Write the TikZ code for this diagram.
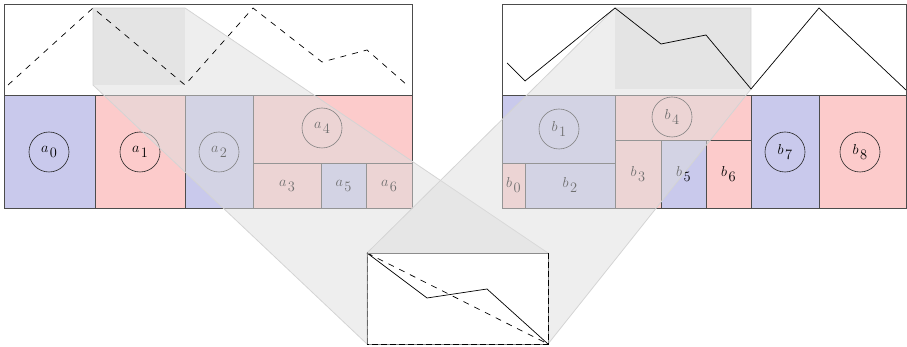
\documentclass[tikz,border=0pt]{standalone}
\usepackage{tikz}
\definecolor{cblue}{RGB}{201,201,236}
\definecolor{cpink}{RGB}{252,203,203}
\newcommand{\lbl}[2]{$#1$\kern1.5pt\raisebox{-5pt}{$#2$}}
\begin{document}
\begin{tikzpicture}[x=1pt,y=-1pt,
  cell/.style={draw=black!70, line width=0.7pt},
  bcell/.style={cell, fill=cblue},
  pcell/.style={cell, fill=cpink},
  txt/.style={font=\fontsize{14.5}{17}\selectfont, inner sep=0pt},
  ring/.style={txt, circle, draw=black!85, line width=0.6pt, minimum size=40pt},
  frame/.style={draw=black!70, line width=0.7pt},
  hl/.style={fill=black!8},
  proj/.style={fill=black!13, fill opacity=0.5, draw=black!17, line width=0.8pt},
  dashplot/.style={line width=0.7pt, dash pattern=on 6pt off 6pt},
  solidplot/.style={line width=0.7pt}]
\useasboundingbox (0,0) rectangle (907,347);

% key coordinates
\coordinate (LA) at (93,8);   \coordinate (LB) at (185,8);
\coordinate (LC) at (185,85); \coordinate (LD) at (93,85);
\coordinate (RA) at (615,8);  \coordinate (RB) at (751,8);
\coordinate (RC) at (751,89); \coordinate (RD) at (615,89);
\coordinate (ZA) at (367,253); \coordinate (ZB) at (548,253);
\coordinate (ZC) at (548,344); \coordinate (ZD) at (367,344);

% highlight rectangles
\fill[hl] (LA) rectangle (LC);
\fill[hl] (RA) rectangle (RC);

% left cells
\draw[bcell] (4,95) rectangle (95,208);
\draw[pcell] (95,95) rectangle (185,208);
\draw[bcell] (185,95) rectangle (253,208);
\draw[pcell] (253,95) rectangle (412,163);
\draw[pcell] (253,163) rectangle (321,208);
\draw[bcell] (321,163) rectangle (366,208);
\draw[pcell] (366,163) rectangle (412,208);
\node[ring] (a0) at (49,152) {\lbl{a}{0}};
\node[ring] (a1) at (140,152) {\lbl{a}{1}};
\node[ring] (a2) at (219,152) {\lbl{a}{2}};
\node[ring] (a4) at (322,128) {\lbl{a}{4}};
\node[txt] (a3) at (287,185.5) {\lbl{a}{3}};
\node[txt] (a5) at (343.5,185.5) {\lbl{a}{5}};
\node[txt] (a6) at (389,185.5) {\lbl{a}{6}};
\draw[frame] (4,4) rectangle (412,208);
\draw[frame] (4,95) -- (412,95);

% right cells
\draw[bcell] (502,95) rectangle (615,163);
\draw[pcell] (502,163) rectangle (525,208);
\draw[bcell] (525,163) rectangle (615,208);
\draw[pcell] (615,95) rectangle (751,140);
\draw[pcell] (615,140) rectangle (661,208);
\draw[bcell] (661,140) rectangle (706,208);
\draw[pcell] (706,140) rectangle (751,208);
\draw[bcell] (751,95) rectangle (819,208);
\draw[pcell] (819,95) rectangle (906,208);
\node[ring] (b1) at (559,129) {\lbl{b}{1}};
\node[ring] (b4) at (672,117) {\lbl{b}{4}};
\node[ring] (b7) at (785,152) {\lbl{b}{7}};
\node[ring] (b8) at (860,152) {\lbl{b}{8}};
\node[txt] (b0) at (513.5,185.5) {\lbl{b}{0}};
\node[txt] (b2) at (570,185.5) {\lbl{b}{2}};
\node[txt] (b3) at (638,174) {\lbl{b}{3}};
\node[txt] (b5) at (683.5,174) {\lbl{b}{5}};
\node[txt] (b6) at (728.5,174) {\lbl{b}{6}};
\draw[frame] (502,4) rectangle (906,208);
\draw[frame] (502,95) -- (906,95);

% projections
\draw[proj] (LA) -- (LB) -- (ZB) -- (ZC) -- (ZD) -- (LD) -- cycle;
\draw[proj] (RA) -- (RB) -- (RC) -- (ZC) -- (ZD) -- (ZA) -- cycle;

% plots
\draw[dashplot] (8,85) -- (LA) -- (LC) -- (253,8) -- (322,62) -- (367,50) -- (407,85);
\draw[solidplot] (507,63) -- (525,81) -- (RA) -- (661,44) -- (706,35) -- (RC) -- (819,8) -- (906,90);

% zoom box
\fill[white] (ZA) rectangle (ZC);
\draw[solidplot] (ZA) -- (427,298) -- (487,289) -- (ZC);
\draw[dashplot] (ZA) -- (ZC);
\draw[draw=black!45, line width=0.8pt] (ZA) rectangle (ZC);
\draw[line width=1pt, dash pattern=on 6pt off 3pt] (ZB) -- (ZC) -- (ZD);
\draw[black!60, line width=0.8pt, dash pattern=on 6pt off 3pt] (ZD) -- (ZA);
\end{tikzpicture}
\end{document}
